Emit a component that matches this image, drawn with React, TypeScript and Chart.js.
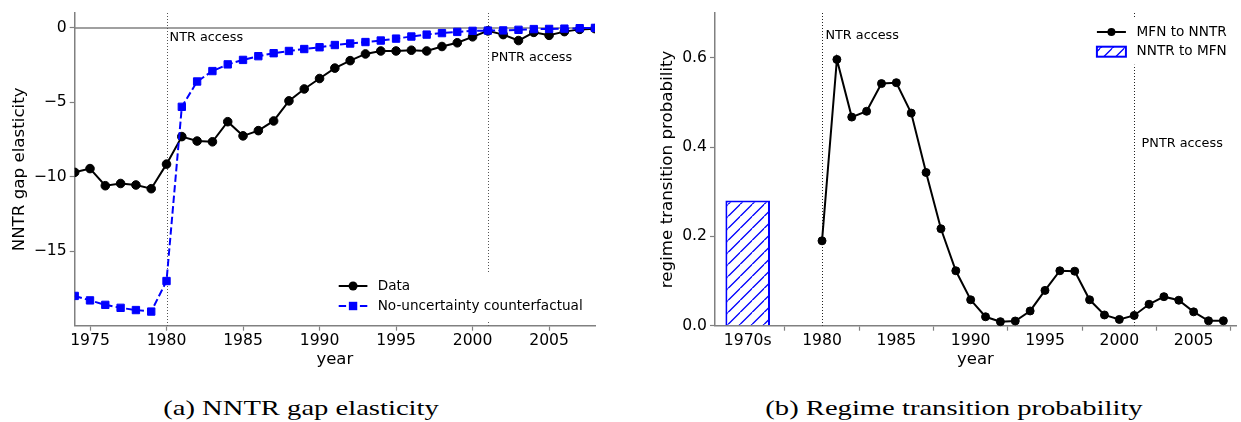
import React, { useEffect, useRef } from 'react';
import { Chart, registerables } from 'chart.js';

Chart.register(...registerables);

// ---------- Panel (a): NNTR gap elasticity ----------
const yearsA = [1974, 1975, 1976, 1977, 1978, 1979, 1980, 1981, 1982, 1983, 1984, 1985, 1986, 1987, 1988, 1989, 1990, 1991, 1992, 1993, 1994, 1995, 1996, 1997, 1998, 1999, 2000, 2001, 2002, 2003, 2004, 2005, 2006, 2007, 2008];
const dataSeriesA = [-9.7, -9.45, -10.6, -10.45, -10.55, -10.8, -9.15, -7.3, -7.6, -7.65, -6.3, -7.25, -6.9, -6.25, -4.9, -4.1, -3.4, -2.7, -2.2, -1.75, -1.55, -1.55, -1.5, -1.55, -1.25, -1.0, -0.6, -0.2, -0.45, -0.85, -0.3, -0.5, -0.25, -0.1, -0.05];
const counterfactualA = [-18.0, -18.3, -18.6, -18.8, -18.95, -19.05, -17.0, -5.3, -3.6, -2.9, -2.45, -2.15, -1.9, -1.7, -1.55, -1.42, -1.3, -1.15, -1.05, -0.95, -0.85, -0.72, -0.58, -0.45, -0.35, -0.27, -0.2, -0.18, -0.17, -0.13, -0.08, -0.07, -0.05, -0.02, 0.0];
const xTicksA = [1975, 1980, 1985, 1990, 1995, 2000, 2005];
const yTicksA = [0, -5, -10, -15];
const legendA = ['Data', 'No-uncertainty counterfactual'];

// events (shared)
const eventYears = [1980, 2001];
const eventLabels = ['NTR access', 'PNTR access'];
const eventLabelYA = [-0.67, -2.02];
const eventLabelYB = [0.649, 0.408];
const eventLabelDxA = [0.2, 0.2];
const eventLabelDxB = [0.23, 0.5];

// ---------- Panel (b): Regime transition probability ----------
const yearsB = [1980, 1981, 1982, 1983, 1984, 1985, 1986, 1987, 1988, 1989, 1990, 1991, 1992, 1993, 1994, 1995, 1996, 1997, 1998, 1999, 2000, 2001, 2002, 2003, 2004, 2005, 2006, 2007];
const mfnToNntr = [0.19, 0.596, 0.467, 0.48, 0.542, 0.544, 0.476, 0.343, 0.217, 0.123, 0.058, 0.02, 0.009, 0.0105, 0.033, 0.079, 0.123, 0.122, 0.058, 0.024, 0.014, 0.023, 0.048, 0.065, 0.057, 0.031, 0.011, 0.011];
const barPositionB = [1975];
const nntrToMfn = [0.28];
const xTicksB = [1975, 1980, 1985, 1990, 1995, 2000, 2005];
const xTickLabelsB = ['1970s', '1980', '1985', '1990', '1995', '2000', '2005'];
const yTicksB = [0, 0.2, 0.4, 0.6];
const legendB = ['MFN to NNTR', 'NNTR to MFN'];

const BLUE = '#0000ff';
const SPINE = '#808080';
const FONT = 'DejaVu Sans';

function makeHatch(color: string, s: number): CanvasPattern | string {
  const c = document.createElement('canvas');
  c.width = s;
  c.height = s;
  const g = c.getContext('2d');
  if (!g) return '#fff';
  g.fillStyle = '#ffffff';
  g.fillRect(0, 0, s, s);
  g.strokeStyle = color;
  g.lineWidth = 1.3;
  g.beginPath();
  g.moveTo(-1, s + 1);
  g.lineTo(s + 1, -1);
  g.moveTo(-s / 2 - 1, s / 2 + 1);
  g.lineTo(s / 2 + 1, -s / 2 - 1);
  g.moveTo(s / 2 - 1, s * 1.5 + 1);
  g.lineTo(s * 1.5 + 1, s / 2 - 1);
  g.stroke();
  return g.createPattern(c, 'repeat') || '#fff';
}

function axisCommon(extra: any) {
  return {
    offset: false,
    grid: { display: true, drawOnChartArea: false, drawTicks: true, tickLength: 5, tickColor: SPINE, tickWidth: 1.2 },
    border: { display: true, color: SPINE, width: 1.5 },
    ...extra,
  };
}

function drawEvents(chart: any, color: string) {
  const { ctx, chartArea, scales } = chart;
  ctx.save();
  ctx.strokeStyle = color;
  ctx.lineWidth = 1;
  ctx.setLineDash([1, 2]);
  eventYears.forEach((yr) => {
    const x = Math.round(scales.x.getPixelForValue(yr)) + 0.5;
    ctx.beginPath();
    ctx.moveTo(x, chartArea.top);
    ctx.lineTo(x, chartArea.bottom);
    ctx.stroke();
  });
  ctx.restore();
}

function drawEventLabels(chart: any, labelY: number[], labelDx: number[]) {
  const { ctx, scales } = chart;
  ctx.save();
  ctx.fillStyle = '#000';
  ctx.font = `12.8px "${FONT}"`;
  ctx.textAlign = 'left';
  ctx.textBaseline = 'middle';
  eventYears.forEach((yr, i) => {
    ctx.fillText(eventLabels[i], scales.x.getPixelForValue(yr + labelDx[i]), scales.y.getPixelForValue(labelY[i]));
  });
  ctx.restore();
}

export default function App() {
  const refA = useRef<HTMLCanvasElement | null>(null);
  const refB = useRef<HTMLCanvasElement | null>(null);

  useEffect(() => {
    if (!refA.current || !refB.current) return;

    const pluginA = {
      id: 'panelA',
      beforeDatasetsDraw(chart: any) {
        const { ctx, chartArea, scales } = chart;
        const y0 = scales.y.getPixelForValue(0);
        ctx.save();
        ctx.strokeStyle = SPINE;
        ctx.lineWidth = 1.5;
        ctx.beginPath();
        ctx.moveTo(chartArea.left, y0);
        ctx.lineTo(chartArea.right, y0);
        ctx.stroke();
        ctx.restore();
        drawEvents(chart, '#555');
      },
      afterDatasetsDraw(chart: any) {
        const { ctx, chartArea } = chart;
        drawEventLabels(chart, eventLabelYA, eventLabelDxA);
        ctx.save();
        ctx.font = `13.6px "${FONT}"`;
        const maxW = Math.max(...legendA.map((t) => ctx.measureText(t).width));
        const textX = chartArea.right - 12.3 - maxW;
        const y1 = chartArea.bottom - 39.7;
        const y2 = chartArea.bottom - 19.7;
        ctx.fillStyle = '#fff';
        ctx.fillRect(textX - 47, y1 - 13, chartArea.right - 4 - (textX - 47), y2 - y1 + 27);
        const hx0 = textX - 39;
        const hx1 = textX - 10.3;
        const hc = (hx0 + hx1) / 2;
        ctx.strokeStyle = '#000';
        ctx.lineWidth = 2;
        ctx.beginPath();
        ctx.moveTo(hx0, y1);
        ctx.lineTo(hx1, y1);
        ctx.stroke();
        ctx.fillStyle = '#000';
        ctx.beginPath();
        ctx.arc(hc, y1, 4.5, 0, Math.PI * 2);
        ctx.fill();
        ctx.strokeStyle = BLUE;
        ctx.setLineDash([7.4, 3.2]);
        ctx.beginPath();
        ctx.moveTo(hx0, y2);
        ctx.lineTo(hx1, y2);
        ctx.stroke();
        ctx.setLineDash([]);
        ctx.fillStyle = BLUE;
        ctx.fillRect(hc - 4.2, y2 - 4.2, 8.4, 8.4);
        ctx.fillStyle = '#000';
        ctx.textAlign = 'left';
        ctx.textBaseline = 'middle';
        ctx.fillText(legendA[0], textX, y1);
        ctx.fillText(legendA[1], textX, y2);
        ctx.restore();
      },
    };

    const chartA = new Chart(refA.current, {
      type: 'line',
      data: {
        datasets: [
          {
            label: legendA[1],
            data: yearsA.map((x, i) => ({ x, y: counterfactualA[i] })),
            borderColor: BLUE,
            borderWidth: 2,
            borderDash: [7.4, 3.2],
            pointStyle: 'rect',
            pointRadius: 5.2,
            pointBackgroundColor: BLUE,
            pointBorderColor: BLUE,
            pointBorderWidth: 1,
            clip: 0,
            order: 0,
          },
          {
            label: legendA[0],
            data: yearsA.map((x, i) => ({ x, y: dataSeriesA[i] })),
            borderColor: '#000',
            borderWidth: 2,
            pointStyle: 'circle',
            pointRadius: 4.3,
            pointBackgroundColor: '#000',
            pointBorderColor: '#000',
            pointBorderWidth: 1,
            clip: 0,
            order: 1,
          },
        ],
      } as any,
      options: {
        animation: false,
        responsive: false,
        maintainAspectRatio: false,
        layout: { padding: { top: 13, right: 15, left: 0, bottom: 0 } },
        plugins: { legend: { display: false }, tooltip: { enabled: false } },
        scales: {
          x: axisCommon({
            type: 'linear',
            min: 1974,
            max: 2008,
            afterBuildTicks: (s: any) => { s.ticks = xTicksA.map((v) => ({ value: v })); },
            afterFit: (s: any) => { s.height = 54.3; },
            ticks: { color: '#000', font: { family: FONT, size: 15.6 }, padding: 1, maxRotation: 0, autoSkip: false, callback: (v: any) => String(v) },
            title: { display: true, text: 'year', color: '#000', font: { family: FONT, size: 16.5 }, padding: { bottom: 10 } },
          }),
          y: axisCommon({
            type: 'linear',
            min: -20,
            max: 1,
            afterBuildTicks: (s: any) => { s.ticks = yTicksA.map((v) => ({ value: v })); },
            afterFit: (s: any) => { s.width = 74.7; },
            ticks: { color: '#000', font: { family: FONT, size: 15.6 }, padding: 3, autoSkip: false, callback: (v: any) => (v < 0 ? '\u2212' + String(-v) : String(v)) },
            title: { display: true, text: 'NNTR gap elasticity', color: '#000', font: { family: FONT, size: 16.7 }, padding: { top: 10 } },
          }),
        },
      } as any,
      plugins: [pluginA],
    });

    const hatch = makeHatch(BLUE, 12.5);

    const pluginB = {
      id: 'panelB',
      beforeDatasetsDraw(chart: any) {
        drawEvents(chart, '#222');
      },
      afterDatasetsDraw(chart: any) {
        const { ctx, chartArea } = chart;
        drawEventLabels(chart, eventLabelYB, eventLabelDxB);
        ctx.save();
        ctx.font = `13.6px "${FONT}"`;
        const maxW = Math.max(...legendB.map((t) => ctx.measureText(t).width));
        const textX = chartArea.right - 9.3 - maxW;
        const y1 = chartArea.top + 19;
        const y2 = chartArea.top + 38.7;
        ctx.fillStyle = '#fff';
        ctx.fillRect(textX - 47, y1 - 14, chartArea.right - 2 - (textX - 47), y2 - y1 + 27);
        const hx0 = textX - 39.7;
        const hx1 = textX - 10.7;
        const hc = (hx0 + hx1) / 2;
        ctx.strokeStyle = '#000';
        ctx.lineWidth = 2;
        ctx.beginPath();
        ctx.moveTo(hx0, y1);
        ctx.lineTo(hx1, y1);
        ctx.stroke();
        ctx.fillStyle = '#000';
        ctx.beginPath();
        ctx.arc(hc, y1, 4, 0, Math.PI * 2);
        ctx.fill();
        ctx.fillStyle = hatch as any;
        ctx.fillRect(hx0, y2 - 5, hx1 - hx0, 10);
        ctx.strokeStyle = BLUE;
        ctx.lineWidth = 2;
        ctx.strokeRect(hx0, y2 - 5, hx1 - hx0, 10);
        ctx.fillStyle = '#000';
        ctx.textAlign = 'left';
        ctx.textBaseline = 'middle';
        ctx.fillText(legendB[0], textX, y1);
        ctx.fillText(legendB[1], textX, y2);
        ctx.restore();
      },
    };

    const chartB = new Chart(refB.current, {
      type: 'line',
      data: {
        datasets: [
          {
            type: 'line',
            label: legendB[0],
            data: yearsB.map((x, i) => ({ x, y: mfnToNntr[i] })),
            borderColor: '#000',
            borderWidth: 2,
            pointStyle: 'circle',
            pointRadius: 4,
            pointBackgroundColor: '#000',
            pointBorderColor: '#000',
            pointBorderWidth: 1,
            clip: false,
            order: 0,
          },
          {
            type: 'bar',
            label: legendB[1],
            data: barPositionB.map((x, i) => ({ x, y: nntrToMfn[i] })),
            backgroundColor: hatch,
            borderColor: BLUE,
            borderWidth: 2,
            barPercentage: 0.6,
            categoryPercentage: 1.0,
            order: 1,
          },
        ],
      } as any,
      options: {
        animation: false,
        responsive: false,
        maintainAspectRatio: false,
        layout: { padding: { top: 13, right: 0, left: 0, bottom: 0 } },
        plugins: { legend: { display: false }, tooltip: { enabled: false } },
        scales: {
          x: axisCommon({
            type: 'linear',
            min: 1972.8,
            max: 2007.85,
            afterBuildTicks: (s: any) => { s.ticks = xTicksB.map((v) => ({ value: v })); },
            afterFit: (s: any) => { s.height = 54.3; },
            ticks: {
              color: '#000', font: { family: FONT, size: 15.6 }, padding: 1, maxRotation: 0, autoSkip: false,
              callback: (v: any) => { const i = xTicksB.indexOf(v); return i >= 0 ? xTickLabelsB[i] : String(v); },
            },
            title: { display: true, text: 'year', color: '#000', font: { family: FONT, size: 16.5 }, padding: { bottom: 10 } },
          }),
          y: axisCommon({
            type: 'linear',
            min: 0,
            max: 0.7,
            afterBuildTicks: (s: any) => { s.ticks = yTicksB.map((v) => ({ value: v })); },
            afterFit: (s: any) => { s.width = 95; },
            ticks: { color: '#000', font: { family: FONT, size: 15.6 }, padding: 3, autoSkip: false, callback: (v: any) => Number(v).toFixed(1) },
            title: { display: true, text: 'regime transition probability', color: '#000', font: { family: FONT, size: 16.7 }, padding: { top: 38 } },
          }),
        },
      } as any,
      plugins: [pluginB],
    });

    return () => {
      chartA.destroy();
      chartB.destroy();
    };
  }, []);

  const captionStyle: React.CSSProperties = {
    position: 'absolute',
    top: 408,
    transform: 'translate(-50%, -50%) scaleX(1.3)',
    fontFamily: '"Liberation Serif", serif',
    fontSize: 22,
    whiteSpace: 'nowrap',
    color: '#000',
    lineHeight: '26px',
  };

  return (
    <div style={{ position: 'absolute', left: 0, top: 0, width: 1241, height: 422, background: '#fff', overflow: 'hidden' }}>
      <canvas ref={refA} width={610} height={380} style={{ position: 'absolute', left: 0, top: 0, width: 610, height: 380 }} />
      <canvas ref={refB} width={621} height={380} style={{ position: 'absolute', left: 620, top: 0, width: 621, height: 380 }} />
      <div style={{ ...captionStyle, left: 301 }}>(a) NNTR gap elasticity</div>
      <div style={{ ...captionStyle, left: 953.5 }}>(b) Regime transition probability</div>
    </div>
  );
}
